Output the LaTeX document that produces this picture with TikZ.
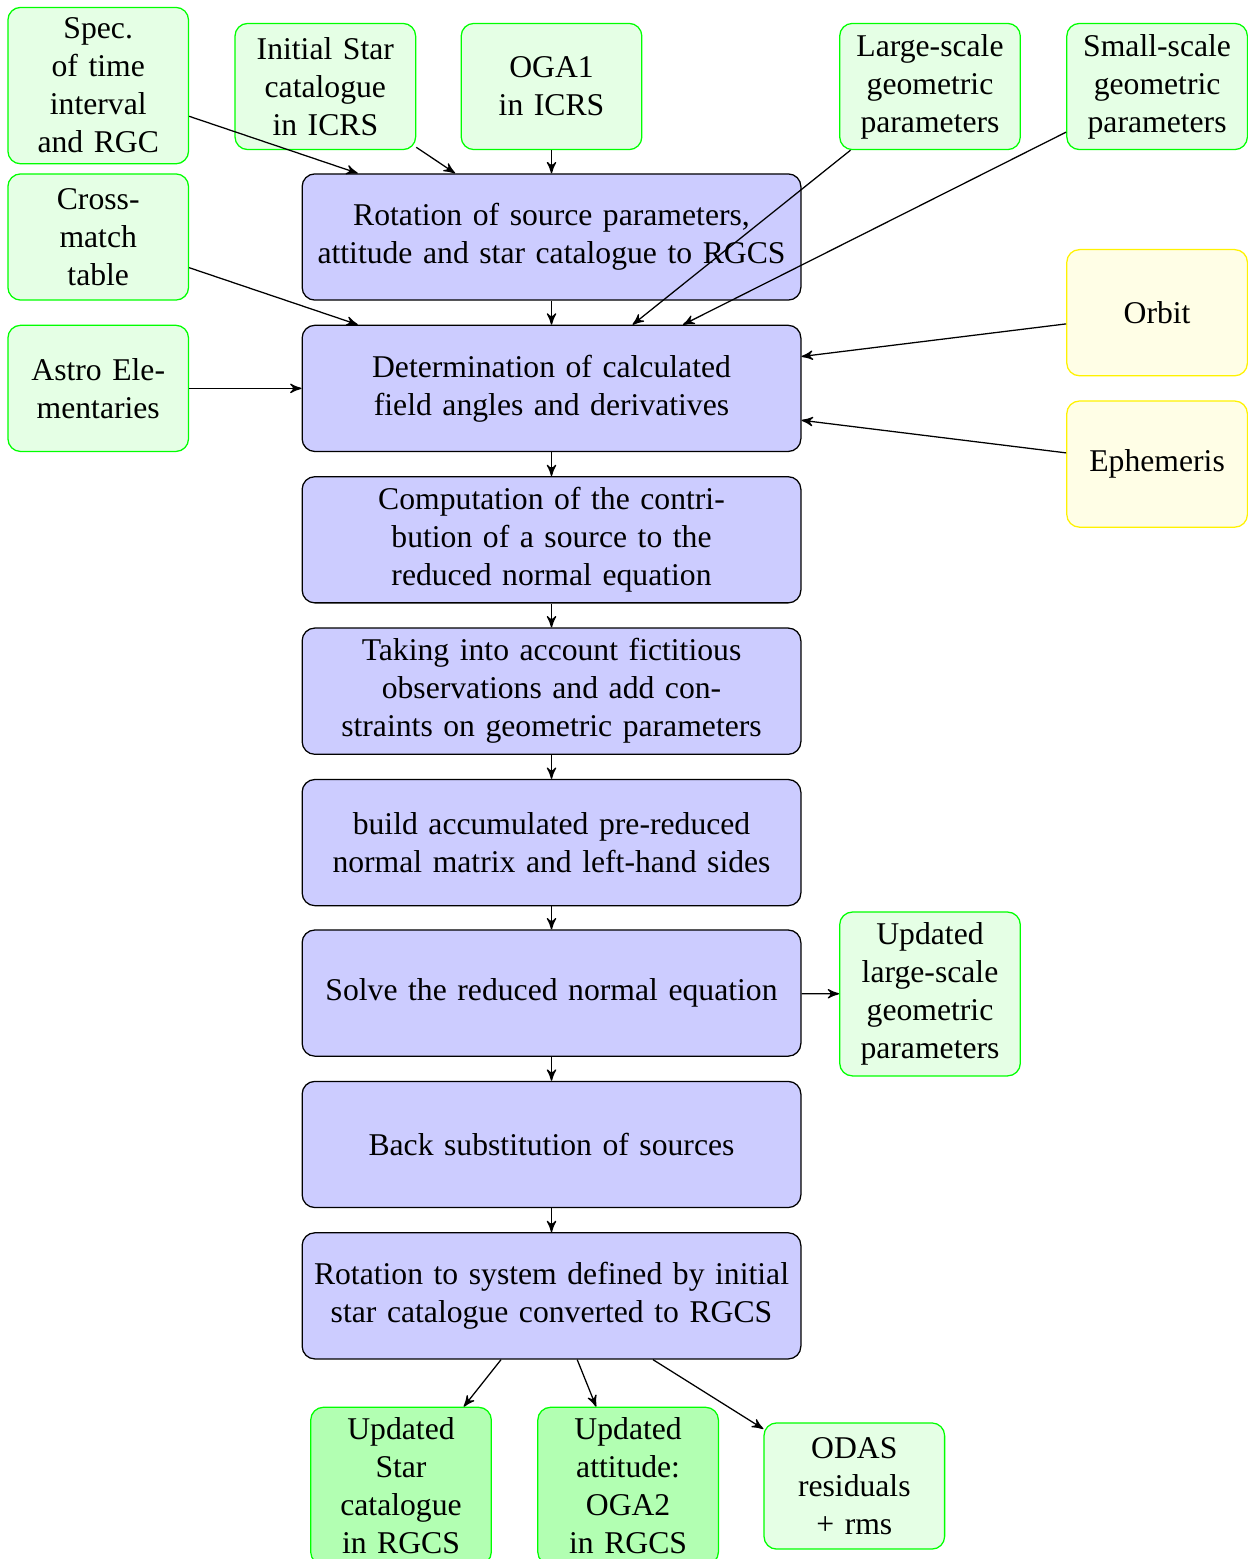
\documentclass[tikz,border=0pt]{standalone}
\usepackage{fontspec}
\setmainfont{Liberation Serif}
\usepackage{tikz}
\usetikzlibrary{arrows}
\usetikzlibrary{calc}

\begin{document}
\begin{tikzpicture}[>=stealth',
	process/.style={draw, rounded corners, fill=blue!20, text width=5.3cm, minimum height=1.4cm, align=center},
	source/.style={draw=green, rounded corners, fill=green!10, text width=1.77cm, minimum height=1.4cm, align=center},
	extern/.style={source, draw=yellow, fill=yellow!10},
	result/.style={source, fill=green!30}]
				\useasboundingbox (0,0) rectangle (13.84,-17.30);
				% inputs
				\node[source] (spec) at ( 1.09, -0.95) {Spec. of time interval and RGC};
				\node[source] (init) at ( 3.61, -0.96) {Initial Star catalogue in ICRS};
				\node[source] (oga) at ( 6.12, -0.96) {OGA1 in ICRS};
				\node[source] (large) at (10.32, -0.96) {Large-scale geometric parameters};
				\node[source] (small) at (12.84, -0.96) {Small-scale geometric parameters};
				\node[source] (cross) at ( 1.09, -2.63) {Cross-match table};
				\node[source] (astro) at ( 1.09, -4.31) {Astro Elementaries};
				\node[extern] (orbit) at (12.84, -3.47) {Orbit};
				\node[extern] (ephem) at (12.84, -5.15) {Ephemeris};
				% processing chain
				\node[process] (rot) at ( 6.12, -2.63) {Rotation of source parameters, attitude and star catalogue to RGCS};
				\node[process] (det) at ( 6.12, -4.31) {Determination of calculated field angles and derivatives};
				\node[process] (comp) at ( 6.12, -5.99) {Computation of the contribution of a source to the reduced normal equation};
				\node[process] (fict) at ( 6.12, -7.67) {Taking into account fictitious observations and add constraints on geometric parameters};
				\node[process] (build) at ( 6.12, -9.35) {build accumulated pre-reduced normal matrix and left-hand sides};
				\node[process] (solve) at ( 6.12, -11.02) {Solve the reduced normal equation};
				\node[process] (back) at ( 6.12, -12.70) {Back substitution of sources};
				\node[process] (trans) at ( 6.12, -14.38) {Rotation to system defined by initial star catalogue converted to RGCS};
				% outputs
				\node[source] (uplarge) at (10.32, -11.03) {Updated large-scale geometric parameters};
				\node[result] (upstar) at ( 4.45, -16.49) {Updated Star catalogue in RGCS};
				\node[result] (upatt) at ( 6.97, -16.49) {Updated attitude: OGA2 in RGCS};
				\node[source] (odas) at ( 9.48, -16.49) {ODAS residuals + rms};
				% connectors
				\draw[->] (spec) to ($(rot.north)+(-2.15,0)$);
				\draw[->] (init) to ($(rot.north)+(-1.07,0)$);
				\draw[->] (oga) to (rot);
				\draw[->] (large) to ($(det.north)+(0.90,0)$);
				\draw[->] (small) to ($(det.north)+(1.46,0)$);
				\draw[->] (cross) to ($(det.north)+(-2.15,0)$);
				\draw[->] (astro) to (det);
				\draw[->] (orbit) to ($(det.east)!0.5!(det.north east)$);
				\draw[->] (ephem) to ($(det.east)!0.5!(det.south east)$);
				\draw[->] (rot) to (det);
				\draw[->] (det) to (comp);
				\draw[->] (comp) to (fict);
				\draw[->] (fict) to (build);
				\draw[->] (build) to (solve);
				\draw[->] (solve) to (back);
				\draw[->] (back) to (trans);
				\draw[->] (solve) to (uplarge);
				\draw[->] (trans) to (upstar);
				\draw[->] (trans) to (upatt);
				\draw[->] (trans) to (odas);
			\end{tikzpicture}
\end{document}
